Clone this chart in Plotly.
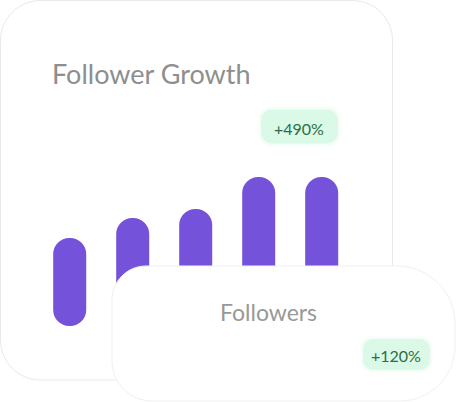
import plotly.graph_objects as go

# ---- data ----
months = ["M1", "M2", "M3", "M4", "M5"]
followers = [88, 108, 117, 149, 149]          # bar heights (arbitrary units)
bar_start = [0, 0, 0, 0, 0]                    # common baseline of the bars
title_text = "Follower Growth"
sub_text = "Followers"
badge_main = "+490%"
badge_sub = "+120%"

W, H = 456, 402
BAR = "#7452D9"
BAR_PX = 33                 # bar thickness in pixels

def P(px, py):
    return f"{px / W:.5f},{1 - py / H:.5f}"

def rrect(x0, y0, x1, y1, rtl, rtr, rbr, rbl):
    k = 0.5523
    s = [
        "M" + P(x0 + rtl, y0),
        "L" + P(x1 - rtr, y0),
        "C" + P(x1 - rtr + k * rtr, y0) + " " + P(x1, y0 + rtr - k * rtr) + " " + P(x1, y0 + rtr),
        "L" + P(x1, y1 - rbr),
        "C" + P(x1, y1 - rbr + k * rbr) + " " + P(x1 - rbr + k * rbr, y1) + " " + P(x1 - rbr, y1),
        "L" + P(x0 + rbl, y1),
        "C" + P(x0 + rbl - k * rbl, y1) + " " + P(x0, y1 - rbl + k * rbl) + " " + P(x0, y1 - rbl),
        "L" + P(x0, y0 + rtl),
        "C" + P(x0, y0 + rtl - k * rtl) + " " + P(x0 + rtl - k * rtl, y0) + " " + P(x0 + rtl, y0),
        "Z",
    ]
    return " ".join(s)

xs = list(range(len(months)))

fig = go.Figure()
# floating bars (explicit base) -> plotly rounds both ends => pill shape
fig.add_trace(go.Bar(x=xs, y=followers, base=bar_start, width=BAR_PX / 63,
                     marker=dict(color=BAR, cornerradius="50%", line=dict(width=0)),
                     hoverinfo="skip"))

shapes = [
    # main card
    dict(type="path", xref="paper", yref="paper", layer="below",
         path=rrect(0.5, 0.5, 392.5, 380, 40, 40, 40, 40),
         fillcolor="white", line=dict(color="#e9e9e9", width=1)),
    # badge glow + badge (main)
    dict(type="path", xref="paper", yref="paper", layer="above",
         path=rrect(258.5, 106.5, 340.5, 146.5, 13, 13, 13, 13),
         fillcolor="rgba(224,250,235,0.35)", line=dict(width=0)),
    dict(type="path", xref="paper", yref="paper", layer="above",
         path=rrect(261, 109.5, 338, 143.5, 11, 11, 11, 11),
         fillcolor="#dbf9e7", line=dict(width=0)),
    # second card overlapping
    dict(type="path", xref="paper", yref="paper", layer="above",
         path=rrect(112, 266, 455, 401, 34, 58, 55, 40),
         fillcolor="white", line=dict(color="#f0f0f0", width=1)),
    # badge glow + badge (sub)
    dict(type="path", xref="paper", yref="paper", layer="above",
         path=rrect(360.5, 336.5, 432.5, 372.5, 12, 12, 12, 12),
         fillcolor="rgba(224,250,235,0.35)", line=dict(width=0)),
    dict(type="path", xref="paper", yref="paper", layer="above",
         path=rrect(363, 339, 430, 370, 10, 10, 10, 10),
         fillcolor="#dbf9e7", line=dict(width=0)),
]

FONT = "Lato"
annotations = [
    dict(text=title_text, x=50 / W, y=1 - 73 / H, xref="paper", yref="paper",
         xanchor="left", yanchor="middle", showarrow=False,
         font=dict(family=FONT, size=27, color="#8e8e8e")),
    dict(text=badge_main, x=298.5 / W, y=1 - 128 / H, xref="paper", yref="paper",
         xanchor="center", yanchor="middle", showarrow=False,
         font=dict(family=FONT, size=16, color="#2b6d45")),
    dict(text=sub_text, x=268.5 / W, y=1 - 311.5 / H, xref="paper", yref="paper",
         xanchor="center", yanchor="middle", showarrow=False,
         font=dict(family=FONT, size=23, color="#989898")),
    dict(text=badge_sub, x=396 / W, y=1 - 355.5 / H, xref="paper", yref="paper",
         xanchor="center", yanchor="middle", showarrow=False,
         font=dict(family=FONT, size=16, color="#2b6d45")),
]

fig.update_layout(
    width=W, height=H, margin=dict(l=0, r=0, t=0, b=0),
    paper_bgcolor="white", plot_bgcolor="rgba(0,0,0,0)",
    barmode="overlay", showlegend=False,
    xaxis=dict(visible=False, range=[-69.7 / 63, (W - 69.7) / 63], fixedrange=True),
    yaxis=dict(visible=False, range=[-76, 326], fixedrange=True),
    shapes=shapes, annotations=annotations,
)

fig.write_html("out.html")
